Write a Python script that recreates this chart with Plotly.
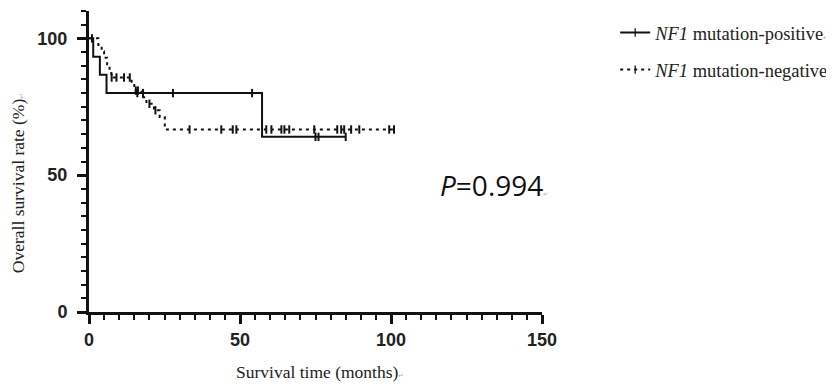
import plotly.graph_objects as go

# ---- data ----
pos_event_t = [0, 1.4, 3.6, 5.8, 57.3]
pos_event_s = [100, 93.3, 86.7, 80.0, 64.0]
pos_censor_t = [1.0, 16.0, 17.9, 27.8, 54.0, 75.0, 76.0, 85.0]

neg_event_t = [0, 3.1, 4.2, 5.0, 6.0, 6.8, 7.4, 14.1, 15.0, 17.4, 19.0, 21.5, 23.4, 25.1]
neg_event_s = [100, 97.6, 95.2, 92.9, 90.5, 88.1, 85.7, 83.3, 80.9, 78.5, 76.1, 73.7, 71.3, 66.7]
neg_censor_t = [7.5, 9.1, 11.6, 13.5, 15.5, 16.2, 20.0, 22.0, 33.3, 43.8, 47.6, 48.8,
                58.7, 60.4, 63.7, 64.7, 66.3, 74.6, 82.2, 83.5, 84.5, 86.8, 89.5, 99.4, 101.0]

x_ticks = [0, 50, 100, 150]
y_ticks = [0, 50, 100]

NAME_POS = "<i>NF1</i> mutation-positive"
NAME_NEG = "<i>NF1</i> mutation-negative"
MARK = '<span style="font-size:7px;color:#b0b0b0">\u21b5</span>'


def km_points(ev_t, ev_s, ce_t):
    pts = [(t, s, 0) for t, s in zip(ev_t, ev_s)]
    for c in ce_t:
        s = ev_s[0]
        for t, v in zip(ev_t, ev_s):
            if t <= c:
                s = v
        pts.append((c, s, 1))
    pts.sort(key=lambda p: (p[0], -p[2]))
    return [p[0] for p in pts], [p[1] for p in pts], [2 if p[2] else 0 for p in pts]


fig = go.Figure()
for name, et, es, ct, dash, grp in [
    (NAME_POS, pos_event_t, pos_event_s, pos_censor_t, "solid", "a"),
    (NAME_NEG, neg_event_t, neg_event_s, neg_censor_t, "3px,4px", "b"),
]:
    x, y, mlw = km_points(et, es, ct)
    fig.add_trace(go.Scatter(
        x=x, y=y, mode="lines+markers", name=name + MARK, legendgroup=grp,
        line=dict(shape="hv", color="#111", width=2, dash=dash),
        marker=dict(symbol="line-ns", size=6, color="#111",
                    line=dict(color="#111", width=mlw)),
        hoverinfo="skip",
    ))

fig.add_annotation(
    x=0.895, y=0.422, xref="paper", yref="paper", showarrow=False,
    xanchor="center", yanchor="middle",
    text="<i>P</i>=0.994" + '<span style="font-size:6px;color:#b0b0b0">\u21b5</span>',
    font=dict(family="Open Sans", size=28, color="#111"),
)

# axis titles placed as annotations so they sit where the reference has them
fig.add_annotation(
    x=0.511, y=-0.199, xref="paper", yref="paper", showarrow=False,
    xanchor="center", yanchor="middle",
    text="Survival time (months)" + MARK,
    font=dict(family="Liberation Serif", size=17.5, color="#222"),
)
fig.add_annotation(
    x=-0.156, y=0.429, xref="paper", yref="paper", showarrow=False,
    xanchor="center", yanchor="middle", textangle=-90,
    text="Overall survival rate (%)" + MARK,
    font=dict(family="Liberation Serif", size=17.5, color="#222"),
)

axis_common = dict(
    showline=True, linecolor="#111", linewidth=3, showgrid=False, zeroline=False,
    ticks="outside", ticklen=9, tickwidth=2.5, tickcolor="#111",
    tickfont=dict(family="Liberation Sans", size=18, color="#222", weight="bold"),
    minor=dict(ticks="outside", dtick=5, ticklen=5, tickwidth=2, tickcolor="#111"),
)

fig.update_xaxes(range=[0, 150], tickvals=x_ticks, **axis_common)
fig.update_yaxes(range=[0, 110], tickvals=y_ticks, **axis_common, ticklabelstandoff=6)

# the page body adds an 8px offset; margins compensate so the plot lands where the reference has it
fig.update_layout(
    width=834, height=387,
    margin=dict(l=81, r=299, t=3, b=83),
    paper_bgcolor="white", plot_bgcolor="white",
    showlegend=True,
    legend=dict(x=1.159, y=0.99, xanchor="left", yanchor="top",
                font=dict(family="Liberation Serif", size=18.5, color="#222"),
                traceorder="grouped", tracegroupgap=10, itemwidth=30,
                bgcolor="rgba(0,0,0,0)"),
)

fig.write_html("out.html")
